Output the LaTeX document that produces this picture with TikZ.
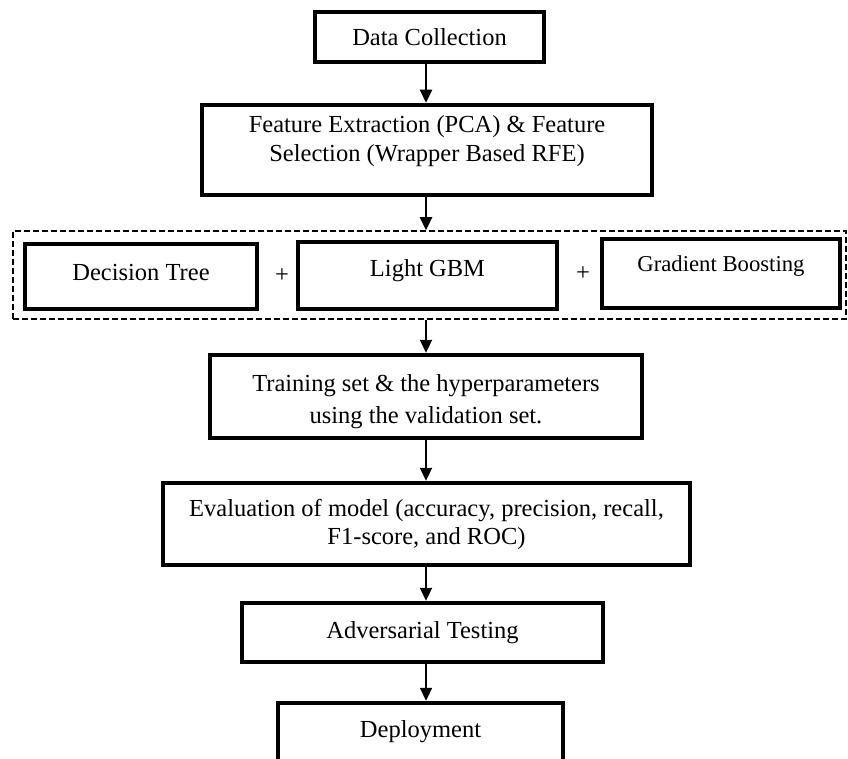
\documentclass[tikz,border=0pt]{standalone}
\usepackage{fontspec}
\setmainfont{Liberation Serif}
\usepackage{tikz}
\usetikzlibrary{arrows.meta}
\tikzset{>={Triangle[length=13pt,width=12pt]}}

\begin{document}
\begin{tikzpicture}[x=1pt,y=-1pt,font=\fontsize{24.5}{29}\selectfont,
	stage/.style={draw,line width=4.5pt,inner sep=0pt,align=center},
	flow/.style={->,line width=2.2pt}]
	\useasboundingbox (0,0) rectangle (848,759);
	\coordinate (axis) at (426,0);
	\node[stage,minimum width=229pt,minimum height=50pt] (datacol) at (429.5,37) {Data Collection};
	\node[stage,minimum width=450pt,minimum height=90pt] (featsel) at (427,150) {\raisebox{9pt}[\height][\depth]{\begin{tabular}{@{}c@{}}Feature Extraction (PCA) \& Feature\\Selection (Wrapper Based RFE)\end{tabular}}};
	\node[draw,dash pattern=on 6pt off 3pt,line width=1.5pt,minimum width=833pt,minimum height=88pt] (ensemble) at (429.5,275) {};
	\node[stage,minimum width=232pt,minimum height=65pt] (dtree) at (141,276.5) {\raisebox{4pt}[\height][\depth]{Decision Tree}};
	\node (plusa) at (282,276) {+};
	\node[stage,minimum width=259pt,minimum height=67pt] (lgbm) at (427.5,275.5) {\raisebox{5pt}[\height][\depth]{Light GBM}};
	\node (plusb) at (583,274) {+};
	\node[stage,minimum width=238pt,minimum height=69pt,font=\fontsize{22.7}{27}\selectfont] (gboost) at (721,273.5) {\raisebox{7pt}[\height][\depth]{Gradient Boosting}};
	\node[stage,minimum width=432pt,minimum height=83pt,font=\fontsize{24.5}{32}\selectfont] (training) at (426,396.5) {\raisebox{-5pt}[\height][\depth]{\begin{tabular}{@{}c@{}}Training set \& the hyperparameters\\using the validation set.\end{tabular}}};
	\node[stage,minimum width=527pt,minimum height=82pt,font=\fontsize{24.5}{28}\selectfont] (evaluation) at (426.5,524) {Evaluation of model (accuracy, precision, recall,\\F1-score, and ROC)};
	\node[stage,minimum width=361pt,minimum height=59pt] (adversarial) at (422.5,632.5) {Adversarial Testing};
	\node[stage,minimum width=285pt,minimum height=70pt] (deployment) at (420.5,738) {\raisebox{6pt}[\height][\depth]{Deployment}};
	\draw[flow] (datacol.south -| axis)--(featsel.north -| axis);
	\draw[flow] (featsel.south -| axis)--(ensemble.north -| axis);
	\draw[flow] (ensemble.south -| axis)--(training.north -| axis);
	\draw[flow] (training.south -| axis)--(evaluation.north -| axis);
	\draw[flow] (evaluation.south -| axis)--(adversarial.north -| axis);
	\draw[flow] (adversarial.south -| axis)--(deployment.north -| axis);
\end{tikzpicture}
\end{document}
